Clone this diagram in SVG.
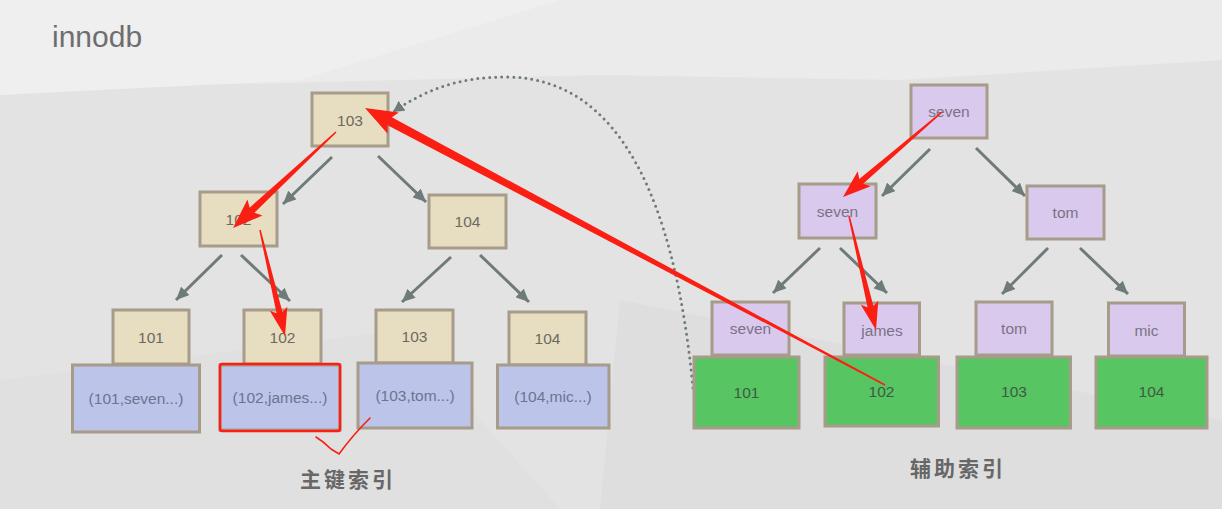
<svg xmlns="http://www.w3.org/2000/svg" width="1222" height="509" viewBox="0 0 1222 509">
<style>
.bx{stroke:#a69c89;stroke-width:3}
.beige{fill:#e7dec2}
.blue{fill:#bcc4ea}
.lav{fill:#d9c9ec}
.green{fill:#56c562}
.t{font-family:"Liberation Sans",Arial,sans-serif;font-size:15.5px;text-anchor:middle;dominant-baseline:central}
.tb{fill:#6e695f}
.tu{fill:#6e7390}
.tl{fill:#7a7388}
.tg{fill:#3f5a45}
.edge{stroke:#6f7b79;stroke-width:3;fill:none;marker-end:url(#ah)}
.red{fill:#fb1e12}
.cap{font-family:"Noto Sans CJK SC","Noto Sans CJK TC",sans-serif;font-size:21px;font-weight:bold;fill:#676767;text-anchor:middle;letter-spacing:3px}
</style>
<defs>
<marker id="ah" markerUnits="userSpaceOnUse" markerWidth="14" markerHeight="12" refX="13" refY="6" orient="auto">
<path d="M0,0 L13,6 L0,12 Z" fill="#6f7b79"/>
</marker>
<marker id="ahd" markerUnits="userSpaceOnUse" markerWidth="12" markerHeight="12" refX="11" refY="6" orient="auto">
<path d="M0,0 L11,6 L0,12 Z" fill="#6f7b79"/>
</marker>
</defs>
<g id="background">
<rect width="1222" height="509" fill="#e3e3e3"/>
<polygon points="0,0 1222,0 1222,60 900,80 600,75 0,90" fill="#ebebeb"/>
<polygon points="0,0 560,0 300,80 0,95" fill="#efefef"/>
<polygon points="620,300 1222,420 1222,509 600,509" fill="#dedede"/>
<polygon points="0,380 400,330 560,509 0,509" fill="#e0e0e0"/>
</g>
<g id="title"><text x="52" y="47" font-family="Liberation Sans,Arial,sans-serif" font-size="30" fill="#6e6e6e">innodb</text></g>
<g id="connectors">
<line class="edge" x1="332" y1="157" x2="283" y2="204"/>
<line class="edge" x1="378" y1="156" x2="426" y2="202"/>
<line class="edge" x1="222" y1="255" x2="176" y2="300"/>
<line class="edge" x1="241" y1="255" x2="290" y2="301"/>
<line class="edge" x1="451" y1="257" x2="402" y2="302"/>
<line class="edge" x1="480" y1="255" x2="529" y2="302"/>
<line class="edge" x1="930" y1="149" x2="882" y2="196"/>
<line class="edge" x1="976" y1="148" x2="1025" y2="196"/>
<line class="edge" x1="820" y1="248" x2="773" y2="293"/>
<line class="edge" x1="840" y1="248" x2="887" y2="293"/>
<line class="edge" x1="1048" y1="248" x2="1002" y2="294"/>
<line class="edge" x1="1080" y1="248" x2="1128" y2="294"/>
<path d="M693,388 C675,200 620,80 510,77 C460,76 425,90 393,112" fill="none" stroke="#6f7b79" stroke-width="3" stroke-dasharray="0 6" stroke-linecap="round" marker-end="url(#ahd)"/>
</g>
<g id="pk-root"><rect class="bx beige" x="312" y="93" width="76" height="53"/><text class="t tb" x="350" y="120">103</text></g>
<g id="pk-102"><rect class="bx beige" x="200" y="192" width="77" height="54"/><text class="t tb" x="238.5" y="219">102</text></g>
<g id="pk-104"><rect class="bx beige" x="429" y="195" width="77" height="53"/><text class="t tb" x="467.5" y="221.5">104</text></g>
<g id="pk-leaf-101"><rect class="bx beige" x="113" y="310" width="76" height="54"/><text class="t tb" x="151" y="337">101</text>
<rect class="bx blue" x="72.5" y="365" width="127" height="67"/><text class="t tu" x="136" y="398.5">(101,seven...)</text></g>
<g id="pk-leaf-102"><rect class="bx beige" x="244" y="310" width="77" height="54"/><text class="t tb" x="282.5" y="337">102</text>
<rect class="bx blue" x="220" y="365" width="120" height="65"/><text class="t tu" x="280" y="397.5">(102,james...)</text></g>
<g id="pk-leaf-103"><rect class="bx beige" x="376" y="310" width="77" height="53"/><text class="t tb" x="414.5" y="336.5">103</text>
<rect class="bx blue" x="358" y="363" width="114" height="65"/><text class="t tu" x="415" y="395.5">(103,tom...)</text></g>
<g id="pk-leaf-104"><rect class="bx beige" x="509" y="312" width="77" height="53"/><text class="t tb" x="547.5" y="338.5">104</text>
<rect class="bx blue" x="497.5" y="365" width="111.5" height="63"/><text class="t tu" x="553" y="396.5">(104,mic...)</text></g>
<g id="sk-root"><rect class="bx lav" x="911" y="85" width="76" height="53"/><text class="t tl" x="949" y="111.5">seven</text></g>
<g id="sk-seven"><rect class="bx lav" x="799" y="184" width="77" height="54"/><text class="t tl" x="837.5" y="211">seven</text></g>
<g id="sk-tom"><rect class="bx lav" x="1027" y="186" width="77" height="53"/><text class="t tl" x="1065.5" y="212.5">tom</text></g>
<g id="sk-leaf-seven"><rect class="bx lav" x="712" y="302" width="77" height="53"/><text class="t tl" x="750.5" y="328.5">seven</text>
<rect class="bx green" x="694" y="357" width="105" height="71"/><text class="t tg" x="746.5" y="392">101</text></g>
<g id="sk-leaf-james"><rect class="bx lav" x="844" y="303" width="75.5" height="52"/><text class="t tl" x="882" y="330">james</text>
<rect class="bx green" x="825" y="357" width="113.5" height="69"/><text class="t tg" x="881.5" y="391">102</text></g>
<g id="sk-leaf-tom"><rect class="bx lav" x="976" y="302" width="76" height="53"/><text class="t tl" x="1014" y="328.5">tom</text>
<rect class="bx green" x="957" y="357" width="113.5" height="71"/><text class="t tg" x="1014" y="391">103</text></g>
<g id="sk-leaf-mic"><rect class="bx lav" x="1108.5" y="303" width="76" height="53"/><text class="t tl" x="1146.5" y="330">mic</text>
<rect class="bx green" x="1096" y="357" width="111" height="71"/><text class="t tg" x="1151.5" y="391">104</text></g>
<g id="captions">
<text class="cap" x="348" y="487">主键索引</text>
<text class="cap" x="958" y="476">辅助索引</text>
</g>
<g id="annotations">
<rect x="220" y="364" width="120" height="67" rx="2" fill="none" stroke="#fb1e12" stroke-width="2.5"/>
<path d="M316,437 Q324,442 331,449 L339,454 Q352,436 370,418" fill="none" stroke="#fb1e12" stroke-width="1.6" stroke-linecap="round"/>
<polygon class="red" points="336.51,132.55 254.41,212.83 262.45,215.59 233,228 247.45,199.49 249.63,207.71 335.49,131.45"/>
<polygon class="red" points="260.73,229.83 282.41,311.95 287.33,306.68 285,336 269.81,310.82 276.57,313.33 259.27,230.17"/>
<polygon class="red" points="884.65,385.66 387.59,125.13 387.60,133.63 365,108 398.88,112.45 391.83,117.19 885.35,384.34"/>
<polygon class="red" points="942.49,112.57 863.16,183.65 870.75,186.35 843,197 857.73,171.17 859.26,179.09 941.51,111.43"/>
<polygon class="red" points="849.73,215.83 873.39,305.97 878.30,300.70 876,330 860.80,304.84 867.55,307.35 848.27,216.17"/>
</g>
</svg>
